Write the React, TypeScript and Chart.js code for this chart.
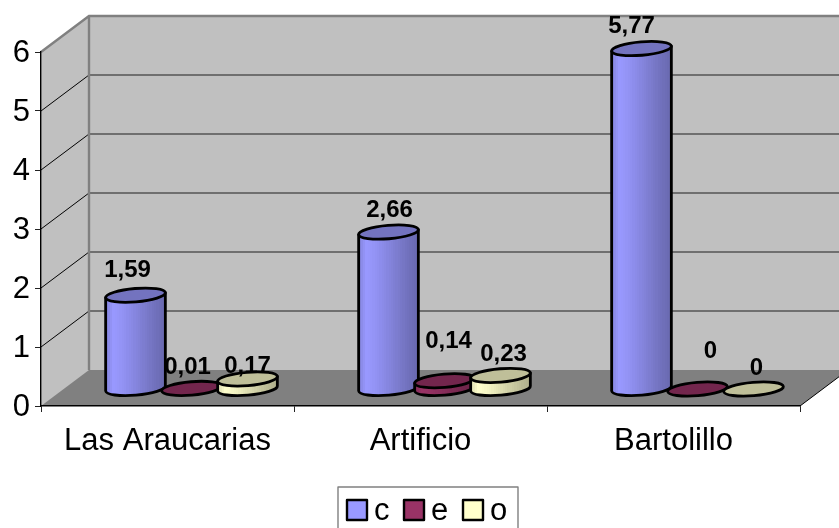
import { useEffect, useRef } from "react";
import { Chart, registerables } from "chart.js";

Chart.register(...registerables);

// Sites and measured values per series
const categories = ["Las Araucarias", "Artificio", "Bartolillo"];
const seriesNames = ["c", "e", "o"];
const valuesC = [1.59, 2.66, 5.77];
const valuesE = [0.01, 0.14, 0];
const valuesO = [0.17, 0.23, 0];
const yTicks = [0, 1, 2, 3, 4, 5, 6];

// Per-series colours, as RGB triples
const rgbC = [153, 153, 255];
const rgbE = [153, 51, 102];
const rgbO = [255, 255, 204];

// Hand placement of the value labels, relative to each cylinder's top, by series then site
const labelNudgeC = [[-8, -25], [1, -22], [-10, -22]];
const labelNudgeE = [[-4, -21.5], [4, -39], [13, -37.5]];
const labelNudgeO = [[0, -12.5], [3, -21.5], [3, -20.5]];
const labelNudges = [labelNudgeC, labelNudgeE, labelNudgeO];

const FONT = '"Liberation Sans", Arial, sans-serif';
const AXIS_FONT_SIZE = 31;

// Oblique projection of the box: how far the back wall sits from the front plane
const DEPTH_X = 48;
const DEPTH_Y = -36;
// Cylinders stand a little behind the middle of the floor
const MID_X = 24;
const MID_Y = -17;
const ELLIPSE_RY = 6.7;
const ELLIPSE_TILT = (-4.8 * Math.PI) / 180;

const shade = (rgb: number[], k: number) =>
  `rgb(${rgb.map((v) => Math.round(v * k)).join(",")})`;

// Brightness across a cylinder's width, left to right
const shadeAt = (t: number) => {
  const pts = [[0, 0.86], [0.14, 1], [0.3, 0.95], [0.55, 0.85], [0.8, 0.75], [1, 0.68]];
  for (let i = 1; i < pts.length; i++) {
    if (t <= pts[i][0]) {
      const f = (t - pts[i - 1][0]) / (pts[i][0] - pts[i - 1][0]);
      return pts[i - 1][1] + f * (pts[i][1] - pts[i - 1][1]);
    }
  }
  return 0.68;
};

function sideFill(ctx: CanvasRenderingContext2D, x0: number, x1: number, rgb: number[]) {
  const g = ctx.createLinearGradient(x0, 0, x1, 0);
  const bands = 26;
  for (let b = 0; b < bands; b++) {
    const k = shadeAt((b + 0.5) / bands);
    g.addColorStop(b / bands, shade(rgb, k));
    g.addColorStop((b + 1) / bands, shade(rgb, k));
  }
  return g;
}

function drawCylinder(
  ctx: CanvasRenderingContext2D,
  cx: number,
  topY: number,
  baseY: number,
  rx: number,
  rgb: number[]
) {
  const ox = rx * Math.cos(ELLIPSE_TILT);
  const oy = rx * Math.sin(ELLIPSE_TILT);
  ctx.lineWidth = 2.8;
  ctx.strokeStyle = "#000";
  ctx.lineJoin = "round";
  if (baseY - topY > 0.5) {
    ctx.beginPath();
    ctx.moveTo(cx + ox, topY + oy);
    ctx.lineTo(cx + ox, baseY + oy);
    ctx.ellipse(cx, baseY, rx, ELLIPSE_RY, ELLIPSE_TILT, 0, Math.PI);
    ctx.lineTo(cx - ox, topY - oy);
    ctx.closePath();
    ctx.fillStyle = sideFill(ctx, cx - rx, cx + rx, rgb);
    ctx.fill();
    ctx.stroke();
  }
  ctx.beginPath();
  ctx.ellipse(cx, topY, rx, ELLIPSE_RY, ELLIPSE_TILT, 0, Math.PI * 2);
  ctx.fillStyle = shade(rgb, 0.75);
  ctx.fill();
  ctx.stroke();
}

const boxPlugin = {
  id: "box3d",
  // The walls and the floor lie beneath the axes
  beforeDraw(chart: any) {
    const { ctx, chartArea, scales } = chart;
    const { left, right, bottom, top } = chartArea;
    const bx = left + DEPTH_X;
    const bRight = right + DEPTH_X;
    ctx.save();
    ctx.fillStyle = "#C0C0C0";
    ctx.beginPath();
    ctx.moveTo(left, top);
    ctx.lineTo(bx, top + DEPTH_Y);
    ctx.lineTo(bRight, top + DEPTH_Y);
    ctx.lineTo(bRight, bottom + DEPTH_Y);
    ctx.lineTo(left, bottom);
    ctx.closePath();
    ctx.fill();

    ctx.fillStyle = "#808080";
    ctx.beginPath();
    ctx.moveTo(left, bottom);
    ctx.lineTo(bx, bottom + DEPTH_Y);
    ctx.lineTo(bRight, bottom + DEPTH_Y);
    ctx.lineTo(right, bottom);
    ctx.closePath();
    ctx.fill();

    for (const t of yTicks) {
      if (t === 0 || t === 6) continue;
      const y = scales.y.getPixelForValue(t);
      ctx.strokeStyle = "#000";
      ctx.lineWidth = 1;
      ctx.beginPath();
      ctx.moveTo(left, y);
      ctx.lineTo(bx, y + DEPTH_Y);
      ctx.stroke();
      ctx.strokeStyle = "#555";
      ctx.lineWidth = 1.4;
      ctx.beginPath();
      ctx.moveTo(bx, y + DEPTH_Y);
      ctx.lineTo(bRight, y + DEPTH_Y);
      ctx.stroke();
    }

    ctx.strokeStyle = "#808080";
    ctx.lineWidth = 2.4;
    ctx.beginPath();
    ctx.moveTo(left, top);
    ctx.lineTo(bx, top + DEPTH_Y);
    ctx.lineTo(bRight, top + DEPTH_Y);
    ctx.moveTo(bx, top + DEPTH_Y);
    ctx.lineTo(bx, bottom + DEPTH_Y);
    ctx.stroke();

    ctx.strokeStyle = "#000";
    ctx.lineWidth = 1;
    ctx.beginPath();
    ctx.moveTo(right, bottom);
    ctx.lineTo(bRight, bottom + DEPTH_Y);
    ctx.stroke();
    ctx.restore();
  },
  // The flat bars are replaced by the cylinders below
  beforeDatasetDraw() {
    return false;
  },
  afterDatasetsDraw(chart: any) {
    const { ctx, data } = chart;
    ctx.save();
    categories.forEach((_, j) => {
      data.datasets.forEach((ds: any, i: number) => {
        const bar = chart.getDatasetMeta(i).data[j];
        drawCylinder(ctx, bar.x + MID_X, bar.y + MID_Y, bar.base + MID_Y, bar.width / 2, ds.rgb);
      });
    });
    ctx.font = `bold 24px ${FONT}`;
    ctx.fillStyle = "#000";
    ctx.textAlign = "center";
    ctx.textBaseline = "middle";
    categories.forEach((_, j) => {
      data.datasets.forEach((ds: any, i: number) => {
        const bar = chart.getDatasetMeta(i).data[j];
        const [nx, ny] = labelNudges[i][j];
        const text = String(ds.data[j]).replace(".", ",");
        ctx.fillText(text, bar.x + MID_X + nx, bar.y + MID_Y + ny);
      });
    });

    // Legend strip, running off the lower edge of the canvas
    ctx.strokeStyle = "#808080";
    ctx.lineWidth = 1.4;
    ctx.strokeRect(338, 487, 180, 60);
    const swatchX = [347, 404, 463];
    ctx.font = `${AXIS_FONT_SIZE}px ${FONT}`;
    ctx.textAlign = "left";
    ctx.textBaseline = "alphabetic";
    data.datasets.forEach((ds: any, i: number) => {
      ctx.fillStyle = ds.backgroundColor;
      ctx.fillRect(swatchX[i], 500, 20, 20);
      ctx.strokeStyle = "#000";
      ctx.lineWidth = 2.4;
      ctx.strokeRect(swatchX[i], 500, 20, 20);
      ctx.fillStyle = "#000";
      ctx.fillText(ds.label, swatchX[i] + 27, 520);
    });
    ctx.restore();
  },
};

export default function App() {
  const ref = useRef<HTMLCanvasElement | null>(null);
  useEffect(() => {
    const series = [valuesC, valuesE, valuesO];
    const colours = [rgbC, rgbE, rgbO];
    const chart = new Chart(ref.current as HTMLCanvasElement, {
      type: "bar",
      data: {
        labels: categories,
        datasets: seriesNames.map((name, i) => ({
          label: name,
          data: series[i],
          rgb: colours[i],
          backgroundColor: shade(colours[i], 1),
        })) as any,
      },
      plugins: [boxPlugin],
      options: {
        responsive: false,
        animation: false,
        events: [],
        layout: { padding: { top: 52, right: 39, left: 0, bottom: 0 } },
        datasets: { bar: { categoryPercentage: 0.664, barPercentage: 1.07 } },
        plugins: { legend: { display: false }, tooltip: { enabled: false } },
        scales: {
          x: {
            type: "category",
            afterFit: (s: any) => {
              s.height = 122;
            },
            border: { color: "#000", width: 1.4 },
            grid: { drawOnChartArea: false, tickLength: 6, color: "#222", offset: true },
            ticks: {
              color: "#000",
              padding: 11,
              maxRotation: 0,
              autoSkip: false,
              font: { family: FONT, size: AXIS_FONT_SIZE },
            },
          },
          y: {
            min: 0,
            max: 6,
            afterFit: (s: any) => {
              s.width = 41;
            },
            afterBuildTicks: (s: any) => {
              s.ticks = yTicks.map((value) => ({ value }));
            },
            border: { color: "#000", width: 1.4 },
            grid: { drawOnChartArea: false, tickLength: 6, color: "#222" },
            ticks: {
              color: "#000",
              padding: 5,
              labelOffset: 1.5,
              font: { family: FONT, size: AXIS_FONT_SIZE },
            },
          },
        },
      } as any,
    });
    return () => chart.destroy();
  }, []);
  return (
    <div style={{ position: "absolute", left: 0, top: 0, width: 839, height: 528, background: "#fff" }}>
      <canvas ref={ref} width={839} height={528} style={{ display: "block" }} />
    </div>
  );
}
